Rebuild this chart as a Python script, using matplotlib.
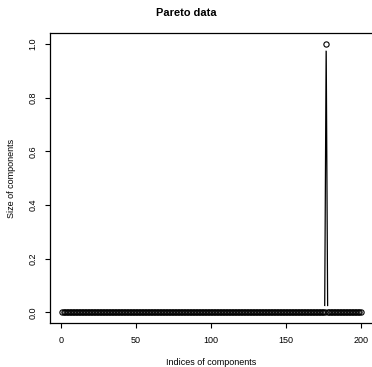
import numpy as np
import matplotlib
matplotlib.use('Agg')
import matplotlib.pyplot as plt

plt.rcParams['font.family'] = ['Liberation Sans', 'DejaVu Sans']

# component sizes (one component takes it all)
indices = np.arange(1, 201)
sizes = np.zeros(200)
sizes[176] = 1.0

W, H = 372, 367
fig = plt.figure(figsize=(W / 100, H / 100), dpi=100)
ax = fig.add_axes([50.3 / W, 1 - 323 / H, (372.6 - 50.3) / W, (323 - 33.3) / H])

# R type="b": line with gaps around open circles
ax.plot(indices, sizes, color='black', lw=0.9, zorder=1)
ax.plot(indices, sizes, 'o', ms=9, mfc='white', mec='none', zorder=2)
ax.plot(indices, sizes, 'o', ms=3.8, mfc='none', mec='black', mew=0.8, zorder=3)

ax.set_xlim(1 - 0.04 * 199, 200 + 0.04 * 199)
ax.set_ylim(-0.04, 1.04)
ax.set_xticks([0, 50, 100, 150, 200])
ax.set_yticks([0.0, 0.2, 0.4, 0.6, 0.8, 1.0])
ax.set_yticklabels(['0.0', '0.2', '0.4', '0.6', '0.8', '1.0'], rotation=90, va='center')
ax.tick_params(labelsize=6.5, length=3.6, width=0.8, pad=5.5)
for s in ax.spines.values():
    s.set_linewidth(0.9)

ax.set_xlabel('Indices of components', fontsize=6.5, va='center')
ax.set_ylabel('Size of components', fontsize=6.5, va='center')
ax.xaxis.set_label_coords(0.499, -0.137)
ax.yaxis.set_label_coords(-0.1198, 0.5)
fig.text(0.5, 1 - 12.7 / H, 'Pareto data', ha='center', va='center', fontsize=7.9, fontweight='bold')

fig.savefig('out.png', dpi=100)
